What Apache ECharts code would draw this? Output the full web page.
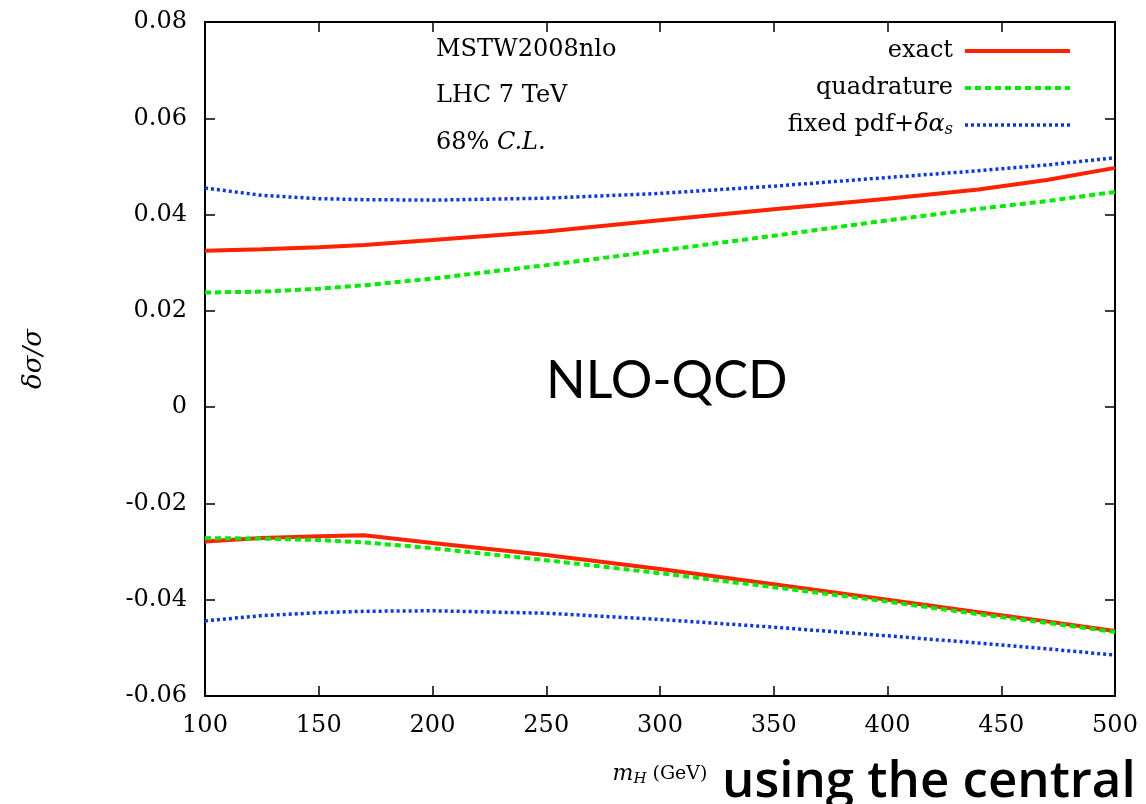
<!DOCTYPE html>
<html><head><meta charset="utf-8">
<script src="https://cdn.jsdelivr.net/npm/echarts@6/dist/echarts.min.js"></script>
<style>html,body{margin:0;padding:0;background:#fff}#c{width:1146px;height:804px}</style>
</head><body><div id="c"></div>
<script>
const masses = [100,125,150,170,200,250,300,350,400,440,470,500];
const exactUp = [0.0325,0.0328,0.0332,0.0337,0.0347,0.0365,0.0388,0.0411,0.0433,0.0452,0.0472,0.0497];
const quadUp = [0.0238,0.0240,0.0246,0.0253,0.0267,0.0295,0.0325,0.0356,0.0388,0.0412,0.0428,0.0447];
const fixedUp = [0.0455,0.0440,0.0433,0.0431,0.0430,0.0434,0.0444,0.0459,0.0477,0.0491,0.0503,0.0518];
const exactLo = [-0.0279,-0.0272,-0.0268,-0.0266,-0.0282,-0.0307,-0.0336,-0.0368,-0.0400,-0.0426,-0.0445,-0.0465];
const quadLo = [-0.0272,-0.0273,-0.0276,-0.0281,-0.0293,-0.0318,-0.0345,-0.0374,-0.0404,-0.0430,-0.0448,-0.0467];
const fixedLo = [-0.0444,-0.0433,-0.0427,-0.0424,-0.0423,-0.0428,-0.0441,-0.0457,-0.0475,-0.0490,-0.0502,-0.0515];
const xTicks = [100,150,200,250,300,350,400,450,500];
const yTicks = [-0.06,-0.04,-0.02,0,0.02,0.04,0.06,0.08];
const seriesNames = ['exact','quadrature','fixed'];
const annotations = ['MSTW2008nlo','LHC 7 TeV','68% {i|C.L.}'];

const serif = 'DejaVu Serif';
const pts = ys => masses.map((m,i)=>[m, ys[i]]);
const red = '#ff2200', green = '#00ee00', blue = '#0a36f0';
const styles = {
  exact:{color:red, type:'solid', width:4},
  quadrature:{color:green, type:[6,4], width:4},
  fixed:{color:blue, type:[3,3], width:3.5}
};
function line(name, ys){
  const s = styles[name];
  return {type:'line', name, data:pts(ys), showSymbol:false, symbol:'none', xAxisIndex:0, yAxisIndex:0,
    lineStyle:{color:s.color, width:s.width, type:s.type}, itemStyle:{color:s.color}, z:3, animation:false};
}
const axisCommon = {
  axisLine:{show:true, onZero:false, lineStyle:{color:'#000', width:2}},
  axisTick:{show:true, inside:true, length:10, lineStyle:{color:'#000', width:1.5}},
  splitLine:{show:false}
};
const txt = {fontFamily:serif, fontSize:24, fontWeight:'normal', color:'#000'};
const chart = echarts.init(document.getElementById('c'));
chart.setOption({
  animation:false,
  backgroundColor:'#fff',
  grid:{left:205, right:31, top:22, bottom:108},
  title:[
    {text:annotations[0], left:431, top:33, textStyle:txt},
    {text:annotations[1], left:431, top:79, textStyle:txt},
    {text:annotations[2], left:431, top:126, textStyle:Object.assign({rich:{i:{fontFamily:serif, fontStyle:'italic', fontSize:24}}}, txt)},
    {text:'NLO-QCD', left:541, top:350, textStyle:{fontFamily:'Lato', fontSize:52, fontWeight:'normal', color:'#000'}},
    {text:'using the central', left:717, top:752, textStyle:{fontFamily:'Open Sans', fontSize:51, fontWeight:600, color:'#000'}}
  ],
  legend:{
    orient:'vertical', right:69, top:33, align:'right', itemWidth:105, itemHeight:14, itemGap:11,
    data:seriesNames.map(n => ({name:n, itemStyle:{opacity:0},
      lineStyle:{color:styles[n].color, width:styles[n].width, type:styles[n].type}})),
    textStyle:{fontFamily:serif, fontSize:24, color:'#000', lineHeight:26, padding:[0,7,0,0], rich:{
      i:{fontFamily:serif, fontStyle:'italic', fontSize:24, lineHeight:26},
      s:{fontFamily:serif, fontStyle:'italic', fontSize:16, lineHeight:26, verticalAlign:'bottom', padding:[10,0,0,0]}
    }},
    formatter: n => n==='fixed' ? 'fixed pdf+{i|δα}{s|s}' : n
  },
  xAxis:[
    Object.assign({type:'value', min:100, max:500, interval:50, position:'bottom',
      name:'{i|m}{s|H} (GeV)', nameLocation:'middle', nameGap:66,
      nameTextStyle:{fontFamily:serif, fontSize:19, color:'#000', rich:{
        i:{fontFamily:serif, fontStyle:'italic', fontSize:22},
        s:{fontFamily:serif, fontStyle:'italic', fontSize:15, verticalAlign:'bottom', padding:[10,0,0,0]}}},
      axisLabel:{fontFamily:serif, fontSize:24, color:'#000', margin:18,
        formatter: v => xTicks.includes(v) ? String(v) : ''}}, axisCommon),
    Object.assign({type:'value', min:100, max:500, interval:50, position:'top', axisLabel:{show:false}}, axisCommon)
  ],
  yAxis:[
    Object.assign({type:'value', min:-0.06, max:0.08, interval:0.02, position:'left',
      name:'{i|δσ/σ}', nameLocation:'middle', nameGap:158, nameRotate:90,
      nameTextStyle:{fontFamily:serif, fontSize:26, color:'#000', rich:{i:{fontFamily:serif, fontStyle:'italic', fontSize:26}}},
      axisLabel:{fontFamily:serif, fontSize:24, color:'#000', margin:18,
        formatter: v => { const t = yTicks.find(a=>Math.abs(a-v)<1e-9); return t===undefined ? '' : (t===0 ? '0' : t.toFixed(2)); }}}, axisCommon),
    Object.assign({type:'value', min:-0.06, max:0.08, interval:0.02, position:'right', axisLabel:{show:false}}, axisCommon)
  ],
  series:[
    line('exact', exactUp),
    line('quadrature', quadUp),
    line('fixed', fixedUp),
    line('exact', exactLo),
    line('quadrature', quadLo),
    line('fixed', fixedLo)
  ]
});
</script></body></html>
